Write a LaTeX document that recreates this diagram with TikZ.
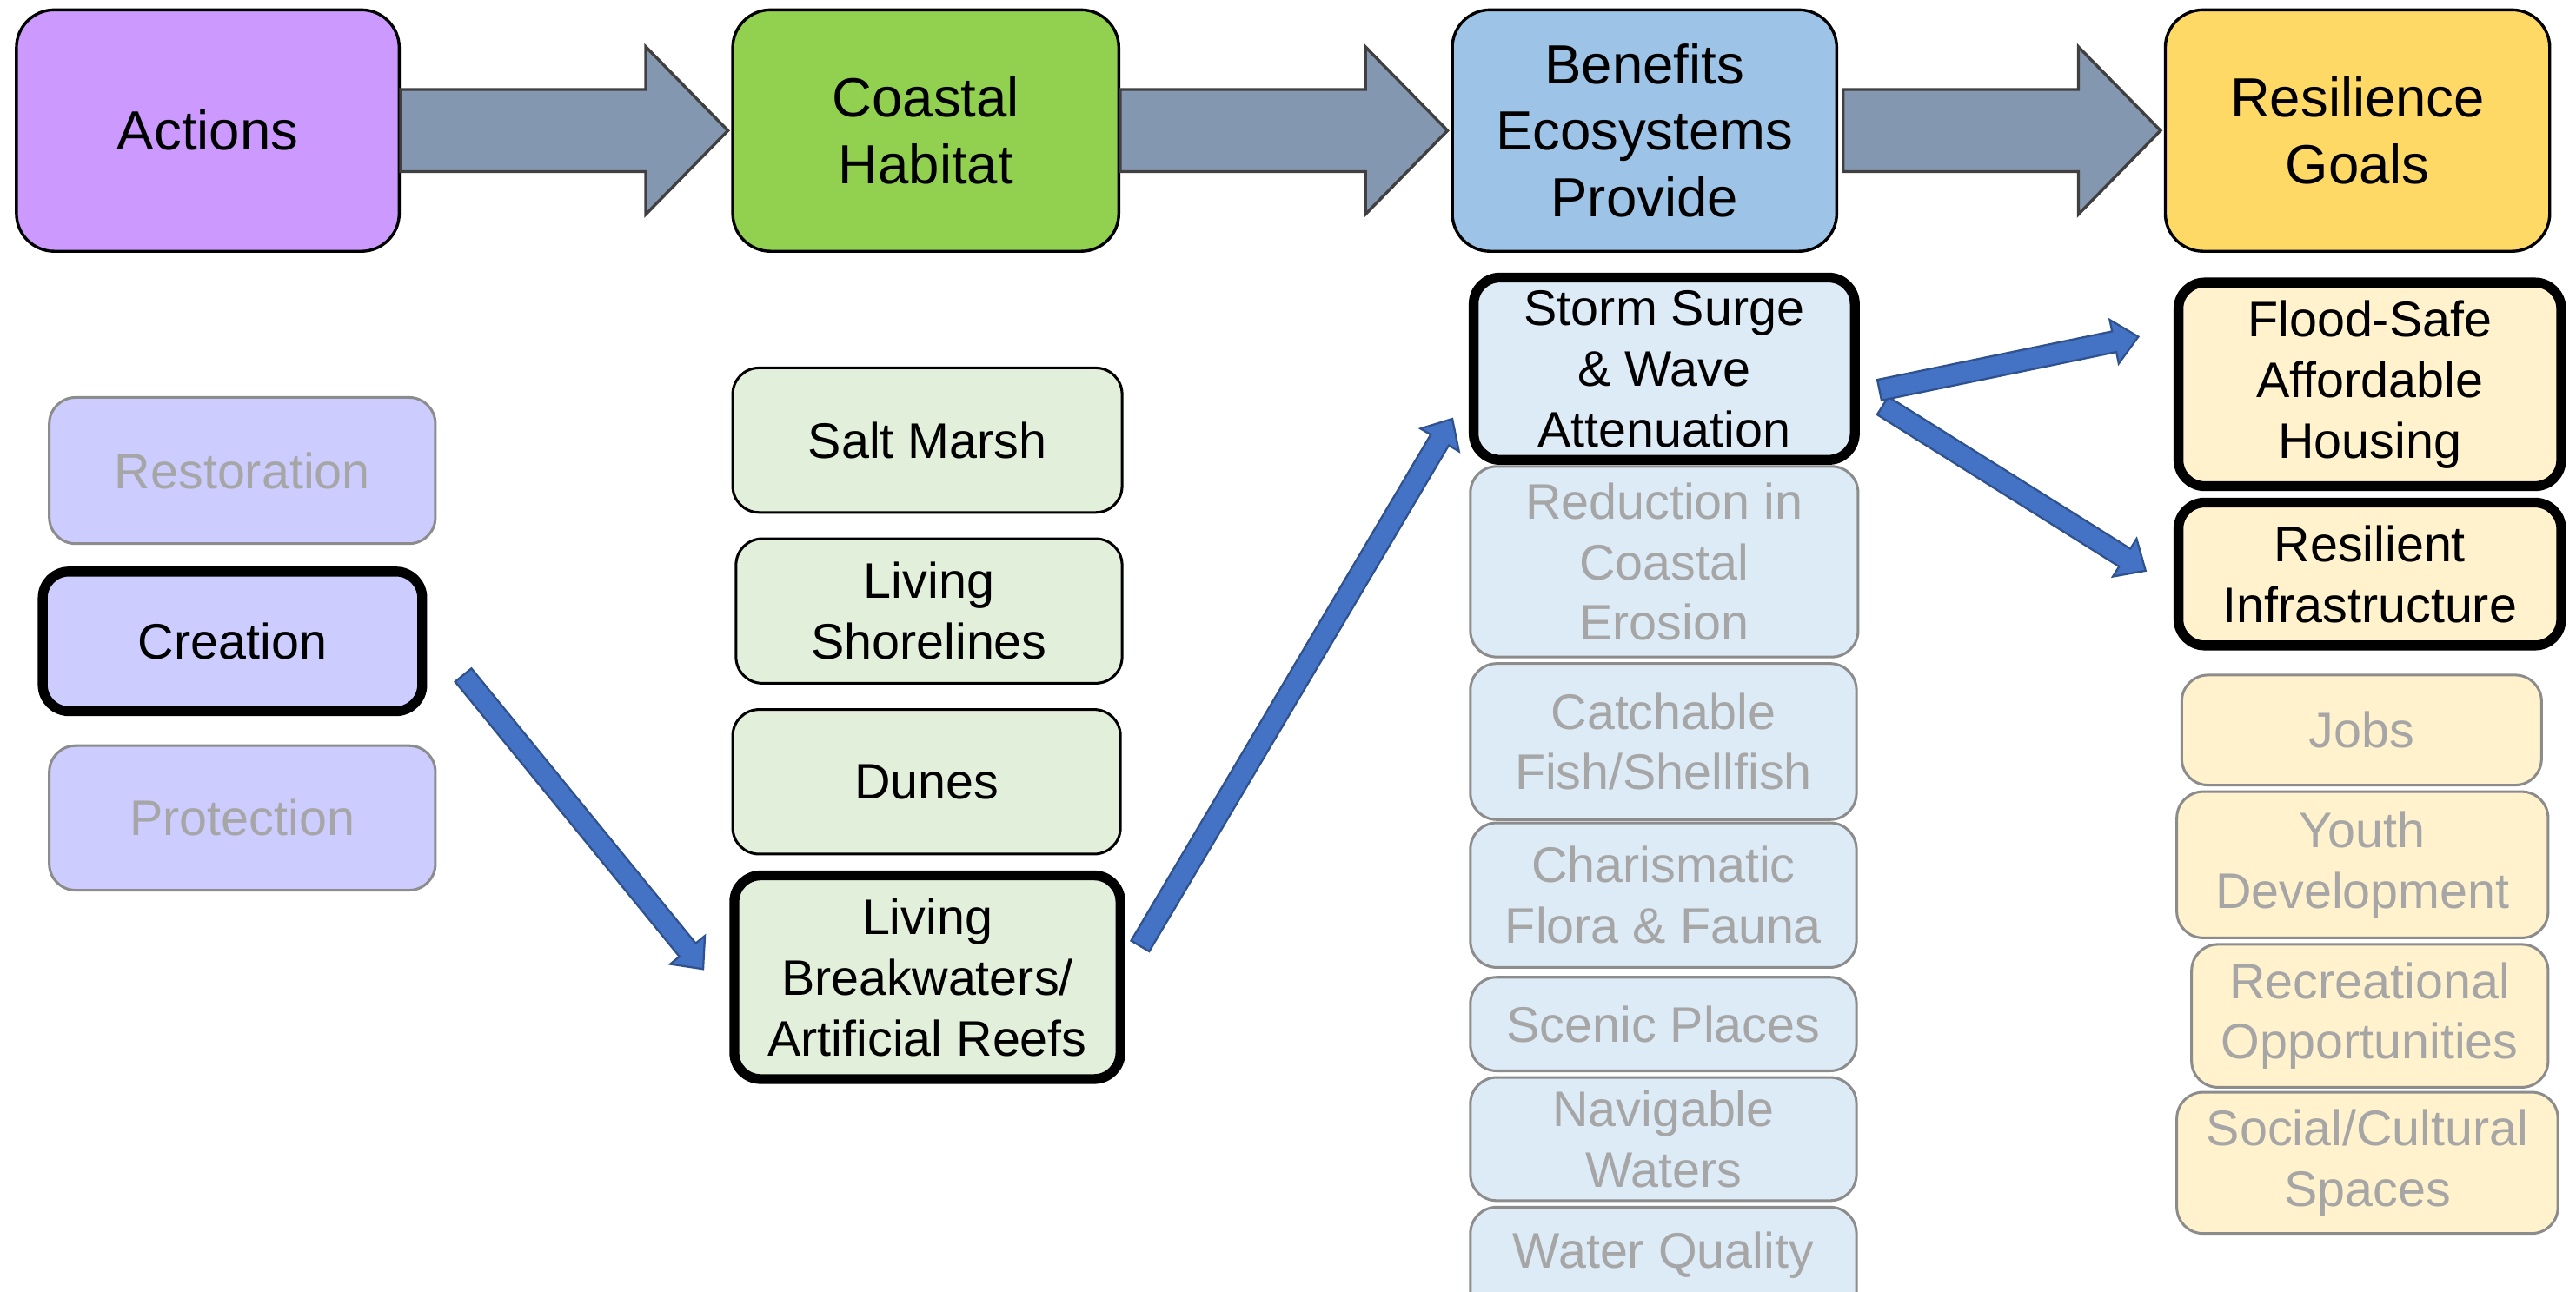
\documentclass[tikz,border=0pt]{standalone}
\usepackage{fontspec}
\setmainfont{Liberation Sans}
\usetikzlibrary{calc}

\definecolor{actHead}{HTML}{CC99FF}
\definecolor{actLow}{HTML}{CCCCFF}
\definecolor{habHead}{HTML}{92D050}
\definecolor{habLow}{HTML}{E2EFDA}
\definecolor{benHead}{HTML}{9DC3E6}
\definecolor{benLow}{HTML}{DDEBF7}
\definecolor{resHead}{HTML}{FFD966}
\definecolor{resLow}{HTML}{FFF2CC}
\definecolor{dimText}{HTML}{A6A6A6}
\definecolor{dimLine}{HTML}{8C8C8C}
\definecolor{flowFill}{HTML}{8497B0}
\definecolor{flowLine}{HTML}{404040}
\definecolor{linkFill}{HTML}{4472C4}
\definecolor{linkLine}{HTML}{2F528F}

% block arrow: #1 style, #2 tail, #3 tip, #4 shaft half width, #5 head half width, #6 head length
\newcommand{\blockarrow}[6]{%
  \coordinate (bahead) at ($(#3)!#6!(#2)$);
  \path[#1] ($(#2)!#4!90:(#3)$) -- ($(bahead)!#4!90:(#3)$) -- ($(bahead)!#5!90:(#3)$)
    -- (#3) -- ($(bahead)!#5!-90:(#3)$) -- ($(bahead)!#4!-90:(#3)$)
    -- ($(#2)!#4!-90:(#3)$) -- cycle;}

\tikzset{
  % box spanning the corners (#1,#2) and (#3,#4), one unit being 0.5pt
  span/.style n args={4}{at={({(#1+#3)/2},{(#2+#4)/2})},
    minimum width={(#3-#1)*0.5pt}, minimum height={(#4-#2)*0.5pt}},
  hdr/.style={rectangle, rounded corners=11.5pt, draw=black, line width=0.9pt, inner sep=0pt,
    align=center, text=black, font=\fontsize{16.8}{20.2}\selectfont},
  lbox/.style={rectangle, rounded corners=8pt, inner sep=0pt, align=center,
    font=\fontsize{15.2}{18.5}\selectfont},
  plainbox/.style={lbox, draw=black, line width=0.8pt, text=black},
  dimbox/.style={lbox, draw=dimLine, line width=0.8pt, text=dimText},
  hibox/.style={lbox, draw=black, line width=3pt, text=black},
  flow/.style={fill=flowFill, draw=flowLine, line width=0.9pt, line join=miter},
  link/.style={fill=linkFill, draw=linkLine, line width=0.6pt, line join=miter},
}

\begin{document}
\begin{tikzpicture}[x=0.5pt, y=-0.5pt]
\useasboundingbox (0,0) rectangle (1568,786.6);
\fill[white] (0,0) rectangle (1568,786.6);
\begin{scope}
\clip (0,0) rectangle (1568,786.6);

% column headers
\node[hdr, fill=actHead, span={10}{6}{243}{153}] (act) {Actions};
\node[hdr, fill=habHead, span={446}{6}{681}{153}] (hab) {Coastal\\Habitat};
\node[hdr, fill=benHead, span={884}{6}{1118}{153}] (ben) {Benefits\\Ecosystems\\Provide};
\node[hdr, fill=resHead, span={1318}{6}{1552}{153}] (res) {Resilience\\Goals};

% flow arrows between headers
\coordinate (f1) at ($(hab.west)+(-2,0)$);
\coordinate (f2) at ($(ben.west)+(-2,0)$);
\coordinate (t3) at ($(ben.east)+(3,0)$);
\coordinate (f3) at ($(res.west)+(-2,0)$);
\blockarrow{flow}{act.east}{f1}{12.5pt}{25.5pt}{25pt}
\blockarrow{flow}{hab.east}{f2}{12.5pt}{25.5pt}{25pt}
\blockarrow{flow}{t3}{f3}{12.5pt}{25.5pt}{25pt}

% actions
\node[dimbox, fill=actLow, span={30}{242}{265}{331}] (rest) {Restoration};
\node[hibox, fill=actLow, span={26}{348}{257}{433}] (cre) {Creation};
\node[dimbox, fill=actLow, span={30}{454}{265}{542}] (prot) {Protection};

% coastal habitats
\node[plainbox, fill=habLow, span={446}{224}{683}{312}] (salt) {Salt Marsh};
\node[plainbox, fill=habLow, span={448}{328}{683}{416}] (shore) {Living\\Shorelines};
\node[plainbox, fill=habLow, span={446}{432}{682}{520}] (dune) {Dunes};
\node[hibox, fill=habLow, span={447}{533}{682}{657}] (reef) {Living\\Breakwaters/\\Artificial Reefs};

% ecosystem benefits
\node[dimbox, fill=benLow, span={895}{284}{1131}{400}] (eros) {Reduction in\\Coastal\\Erosion};
\node[hibox, fill=benLow, span={897}{169}{1129}{280}] (surge) {Storm Surge\\\& Wave\\Attenuation};
\node[dimbox, fill=benLow, span={895}{404}{1130}{499}] (fish) {Catchable\\Fish/Shellfish};
\node[dimbox, fill=benLow, span={895}{501}{1130}{589}] (flora) {Charismatic\\Flora \& Fauna};
\node[dimbox, fill=benLow, span={895}{595}{1130}{652}] (scenic) {Scenic Places};
\node[dimbox, fill=benLow, span={895}{656}{1130}{731}] (nav) {Navigable\\Waters};
\node[dimbox, fill=benLow, span={895}{735}{1130}{830}] (wq) {};
\node[lbox, text=dimText] (wqtext) at ($(wq.north)+(0,30)$) {Water Quality};

% resilience goals
\node[hibox, fill=resLow, span={1326}{172}{1559}{296}] (house) {Flood-Safe\\Affordable\\Housing};
\node[hibox, fill=resLow, span={1326}{306}{1559}{393}] (infra) {Resilient\\Infrastructure};
\node[dimbox, fill=resLow, span={1328}{411}{1547}{478}] (jobs) {Jobs};
\node[dimbox, fill=resLow, span={1325}{482}{1551}{571}] (youth) {Youth\\Development};
\node[dimbox, fill=resLow, span={1334}{575}{1551}{662}] (recr) {Recreational\\Opportunities};
\node[dimbox, fill=resLow, span={1325}{665}{1557}{751}] (social) {Social/Cultural\\Spaces};

% pathway links
\coordinate (l1a) at ($(cre.east)+(22,20.5)$);
\coordinate (l1b) at ($(reef.west)+(-16,-5)$);
\coordinate (l2a) at ($(reef.east)+(9,-19)$);
\coordinate (l2b) at ($(surge.west)+(-10,30.5)$);
\coordinate (l3a) at ($(surge.east)+(12,13)$);
\coordinate (l3b) at ($(house.west)+(-21.4,-29)$);
\coordinate (l4a) at ($(surge.east)+(14,22.5)$);
\coordinate (l4b) at ($(infra.west)+(-17,-2)$);
\blockarrow{link}{l1a}{l1b}{3.2pt}{6.8pt}{7.5pt}
\blockarrow{link}{l2a}{l2b}{3.2pt}{6.8pt}{7.5pt}
\blockarrow{link}{l4a}{l4b}{3.2pt}{6.8pt}{7.5pt}
\blockarrow{link}{l3a}{l3b}{3.2pt}{6.8pt}{7.5pt}
\end{scope}
\end{tikzpicture}
\end{document}
